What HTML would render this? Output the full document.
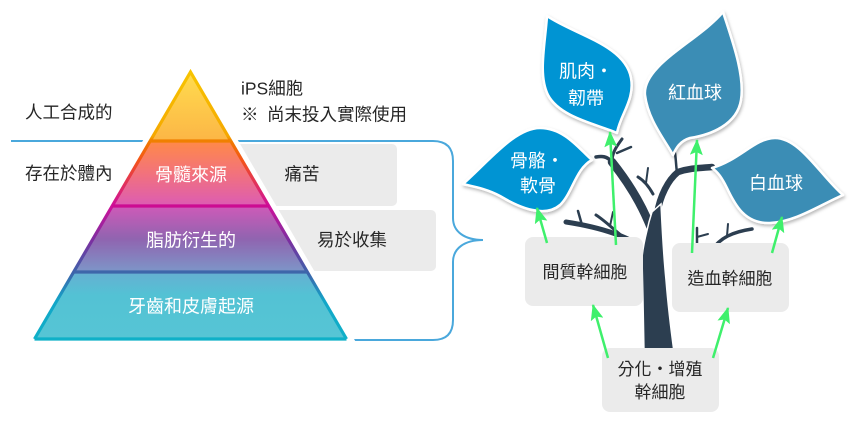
<!DOCTYPE html>
<html>
<head>
<meta charset="utf-8">
<style>
  html,body{margin:0;padding:0;background:#fff;}
  svg{display:block;}
  text{font-family:"Liberation Sans","Noto Sans CJK TC",sans-serif;}
</style>
</head>
<body>
<svg width="858" height="421" viewBox="0 0 858 421" xmlns="http://www.w3.org/2000/svg">
  <defs>
    <linearGradient id="f1" x1="0" y1="0" x2="0" y2="1">
      <stop offset="0" stop-color="#ffdc4e"/>
      <stop offset="1" stop-color="#fcb646"/>
    </linearGradient>
    <linearGradient id="f2" x1="0" y1="0" x2="0" y2="1">
      <stop offset="0" stop-color="#ff8a48"/>
      <stop offset="0.5" stop-color="#f2727c"/>
      <stop offset="1" stop-color="#dc5cb4"/>
    </linearGradient>
    <linearGradient id="f3" x1="0" y1="0" x2="0" y2="1">
      <stop offset="0" stop-color="#cf5ab8"/>
      <stop offset="0.5" stop-color="#9064b0"/>
      <stop offset="1" stop-color="#7d96c8"/>
    </linearGradient>
    <linearGradient id="f4" x1="0" y1="0" x2="0" y2="1">
      <stop offset="0" stop-color="#66afd2"/>
      <stop offset="0.35" stop-color="#53c2d4"/>
      <stop offset="1" stop-color="#56c5d5"/>
    </linearGradient>
    <linearGradient id="side" gradientUnits="userSpaceOnUse" x1="0" y1="72" x2="0" y2="339">
      <stop offset="0" stop-color="#f7c400"/>
      <stop offset="0.24" stop-color="#f5a800"/>
      <stop offset="0.26" stop-color="#f07a00"/>
      <stop offset="0.33" stop-color="#f45418"/>
      <stop offset="0.5" stop-color="#cf109a"/>
      <stop offset="0.63" stop-color="#7c2ea0"/>
      <stop offset="0.75" stop-color="#3e62aa"/>
      <stop offset="0.86" stop-color="#12a6c8"/>
      <stop offset="1" stop-color="#0fb0c8"/>
    </linearGradient>
    <filter id="sh" x="-20%" y="-20%" width="140%" height="140%">
      <feDropShadow dx="1" dy="2" stdDeviation="1.6" flood-color="#000" flood-opacity="0.28"/>
    </filter>
    <marker id="ah" viewBox="0 0 16 13" refX="15" refY="6.5" markerWidth="16" markerHeight="13" markerUnits="userSpaceOnUse" orient="auto">
      <path d="M0,0 L16,6.5 L0,13 L3,6.5 Z" fill="#3ff06c"/>
    </marker>
  </defs>

  <!-- gray boxes next to pyramid -->
  <rect x="205" y="144" width="192" height="62" rx="5" fill="#ebebeb"/>
  <rect x="240" y="210" width="196" height="61" rx="5" fill="#ebebeb"/>

  <!-- blue lines / brace -->
  <path d="M11,141 L200,141" stroke="#4aa8dc" stroke-width="2" fill="none"/>
  <path d="M200,141 L433,141 Q453,141 453,161 L453,218 C453,232 465,240 483,240 C465,240 453,248 453,262 L453,320 Q453,340 433,340 L300,340" stroke="#4aa8dc" stroke-width="2" fill="none"/>

  <!-- white halo around pyramid -->
  <polygon points="190.5,72 346.5,339 34.5,339" fill="#fff" stroke="#fff" stroke-width="13" stroke-linejoin="miter"/>

  <!-- pyramid layers -->
  <polygon points="190.5,72 230.8,141 150.2,141" fill="url(#f1)"/>
  <polygon points="150.2,141 230.8,141 268.8,206 112.2,206" fill="url(#f2)"/>
  <polygon points="112.2,206 268.8,206 307.3,272 73.7,272" fill="url(#f3)"/>
  <polygon points="73.7,272 307.3,272 346.5,339 34.5,339" fill="url(#f4)"/>
  <polyline points="34.5,339 190.5,72 346.5,339" fill="none" stroke="url(#side)" stroke-width="3.2" stroke-linejoin="miter"/>
  <line x1="150.2" y1="141" x2="230.8" y2="141" stroke="#f08000" stroke-width="3.2"/>
  <line x1="112.2" y1="206" x2="268.8" y2="206" stroke="#cc0c92" stroke-width="3.2"/>
  <line x1="73.7" y1="272" x2="307.3" y2="272" stroke="#3e66aa" stroke-width="3.2"/>
  <line x1="34.5" y1="339" x2="346.5" y2="339" stroke="#0fb0c8" stroke-width="3.2"/>

  <!-- pyramid texts -->
  <g fill="#fff" font-size="18" text-anchor="middle">
    <text x="191" y="180.8">骨髓來源</text>
    <text x="191" y="246.3">脂肪衍生的</text>
    <text x="191" y="312.3">牙齒和皮膚起源</text>
  </g>

  <!-- left / side texts -->
  <g fill="#262626" font-size="17.5">
    <text x="25" y="118.6">人工合成的</text>
    <text x="25" y="179.6">存在於體內</text>
    <text x="241" y="94.6">iPS細胞</text>
    <text x="241" y="120.6">※</text>
    <text x="267" y="120.6">尚末投入實際使用</text>
    <text x="302" y="180" text-anchor="middle">痛苦</text>
    <text x="352" y="245.8" text-anchor="middle">易於收集</text>
  </g>

  <!-- TREE -->
  <g stroke-linecap="round" fill="none">
    <g stroke="#fff">
      <path d="M651,228 C642,205 628,182 612,162" stroke-width="11"/>
      <path d="M657,214 C660,196 668,180 678,172 C690,168 700,168 712,167" stroke-width="9"/>
    </g>
    <g stroke="#2c3e50">
      <path d="M651,228 C642,205 628,182 612,162" stroke-width="8.5"/>
      <path d="M612,162 C607,156 602,156 596,157" stroke-width="3.5"/>
      <path d="M612,162 C612,152 617,146 622,139" stroke-width="3"/>
      <path d="M617,153 L631,147" stroke-width="2.5"/>
      <path d="M657,214 C660,196 668,180 678,172 C690,168 700,168 712,167" stroke-width="6.5"/>
      <path d="M677,173 C676,165 676,160 675,153" stroke-width="2.5"/>
      <path d="M653,194 C648,185 643,180 638,177" stroke-width="3"/>
      <path d="M646,183 L648,168" stroke-width="2"/>
      <path d="M643,248 C630,238 605,228 566,222" stroke-width="5"/>
      <path d="M582,225 L578,211" stroke-width="2.5"/>
      <path d="M622,236 C612,228 604,220 596,215" stroke-width="3"/>
      <path d="M610,226 L613,212" stroke-width="2"/>
      <path d="M697,246 L697,228" stroke-width="2.5"/>
      <path d="M697,237 L708,234" stroke-width="2"/>
      <path d="M712,250 C720,238 732,232 752,229" stroke-width="3.5"/>
      <path d="M727,236 L728,224" stroke-width="2"/>
    </g>
  </g>
  <path d="M644,352 L643,300 L642,258 C643,245 646,235 649,222 L652,212 L661,204 C662,225 663,250 666,280 C668,305 671,330 674,352 Z" fill="#2c3e50" stroke="#fff" stroke-width="1.5"/>

  <!-- leaves -->
  <g filter="url(#sh)" stroke="#fff" stroke-width="2.5" stroke-linejoin="round">
    <path d="M463,184 C490,160 515,128 540,128 C565,128 580,150 592,160 C576,168 572,194 560,205 C545,218 520,208 500,196 C485,188 470,186 463,184 Z" fill="#0094d3"/>
    <path d="M547,16 C575,35 625,45 631,78 C635,100 620,115 617,133 C600,125 560,118 548,95 C538,75 545,45 547,16 Z" fill="#0094d3"/>
    <path d="M723,12 C732,40 745,75 741,100 C737,125 710,135 690,138 C680,141 676,148 673,155 C665,140 648,120 645,95 C642,65 700,40 723,12 Z" fill="#3a8db5"/>
    <path d="M712,168 C740,160 755,138 775,138 C800,138 820,175 843,195 C820,205 795,222 770,223 C745,224 735,205 727,188 C722,178 718,172 712,168 Z" fill="#3a8db5"/>
  </g>

  <!-- leaf texts -->
  <g fill="#fff" font-size="18">
    <text x="510" y="166.8">骨骼・</text>
    <text x="520" y="191.8">軟骨</text>
    <text x="559" y="77.3">肌肉・</text>
    <text x="568" y="104.3">韌帶</text>
    <text x="668" y="98.8">紅血球</text>
    <text x="749" y="189.3">白血球</text>
  </g>

  <!-- tree boxes -->
  <rect x="525" y="237" width="118" height="69" rx="8" fill="#ebebeb"/>
  <rect x="672" y="243" width="117" height="69" rx="8" fill="#ebebeb"/>
  <rect x="602" y="348" width="117" height="64" rx="8" fill="#ebebeb"/>
  <g fill="#262626" font-size="17" text-anchor="middle">
    <text x="585" y="278.2">間質幹細胞</text>
    <text x="730" y="284.5">造血幹細胞</text>
    <text x="660" y="374.8">分化・增殖</text>
    <text x="660" y="398.2">幹細胞</text>
  </g>

  <!-- green arrows -->
  <g stroke="#3ff06c" stroke-width="2.5" marker-end="url(#ah)">
    <line x1="547" y1="243" x2="537" y2="208"/>
    <line x1="616" y1="245" x2="610" y2="132"/>
    <line x1="692" y1="253" x2="697" y2="140"/>
    <line x1="772" y1="253" x2="782" y2="217"/>
    <line x1="608" y1="358" x2="593" y2="305"/>
    <line x1="713" y1="358" x2="728" y2="308"/>
  </g>
</svg>
</body>
</html>
